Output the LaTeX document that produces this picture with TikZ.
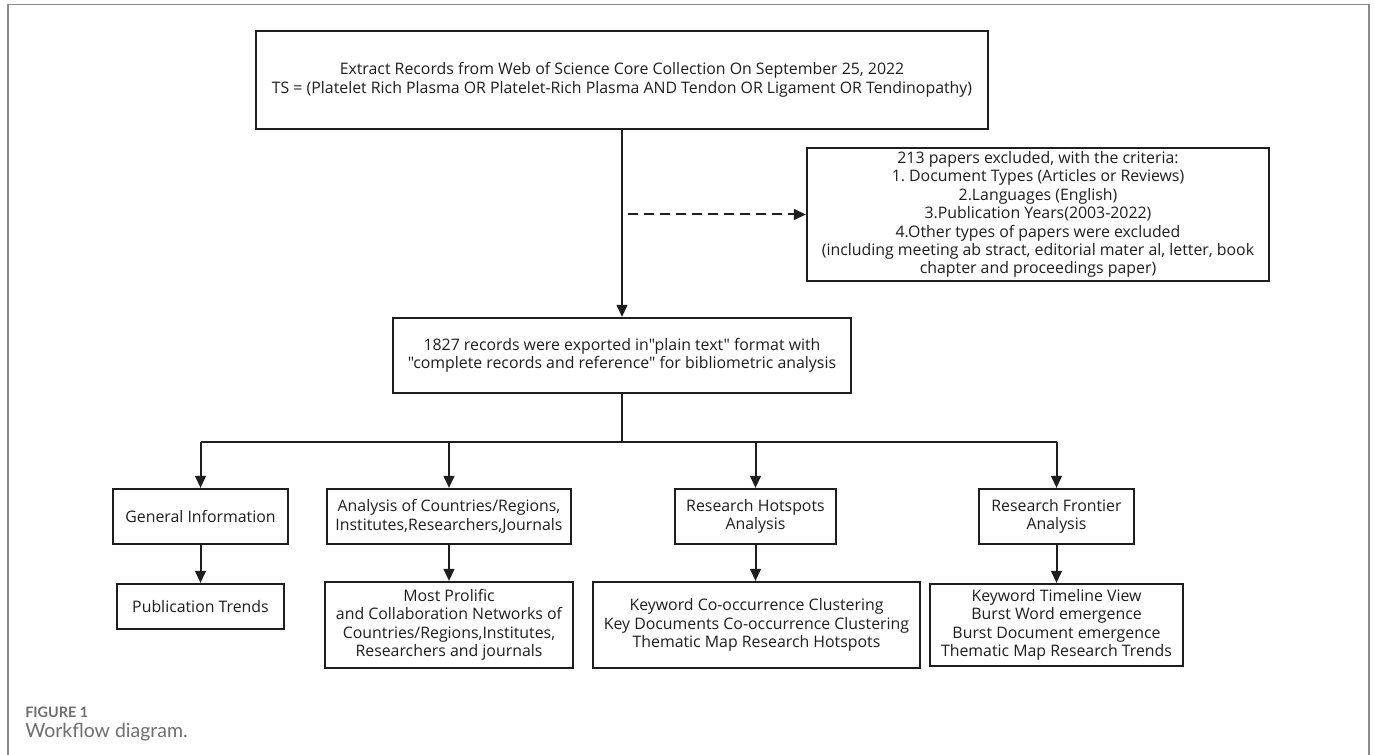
\documentclass[tikz,border=0pt]{standalone}
\usepackage{fontspec}
\setmainfont{Open Sans}[Ligatures=TeXOff]
\newfontfamily\capfont{Lato}
\usetikzlibrary{arrows.meta}
\frenchspacing
\definecolor{ink}{HTML}{1E1E1E}
\definecolor{framegray}{HTML}{8A8A8A}
\definecolor{capgray}{HTML}{6E6E6E}
\tikzset{
  box/.style={draw=ink, line width=1.6pt, align=center, text=ink, inner sep=0pt,
    font=\fontsize{11.9pt}{13.8pt}\selectfont},
  arr/.style={draw=ink, line width=1.5pt, -{Triangle[length=9pt,width=8pt]}},
  link/.style={draw=ink, line width=1.5pt},
  dasharr/.style={arr, dash pattern=on 7.5pt off 4.5pt},
}
\begin{document}
\begin{tikzpicture}[x=0.75pt,y=-0.75pt]
\useasboundingbox (0,0) rectangle (1375,755);
\fill[white] (0,0) rectangle (1375,755);
% outer frame
\draw[framegray, line width=1.2pt] (8,755) -- (8,4.5) -- (1369,4.5) -- (1369,755);

% boxes
\node[box, minimum width=732*0.75pt, minimum height=98*0.75pt] (top) at (622,80)
  {Extract Records from Web of Science Core Collection On September 25, 2022\\
   TS = (Platelet Rich Plasma OR Platelet-Rich Plasma AND Tendon OR Ligament OR Tendinopathy)};
\node[box, minimum width=462*0.75pt, minimum height=133*0.75pt] (excl) at (1038,214.5)
  {213 papers excluded, with the criteria:\\
   1. Document Types (Articles or Reviews)\\
   2.Languages (English)\\
   3.Publication Years(2003-2022)\\
   4.Other types of papers were excluded\\
   (including meeting ab stract, editorial mater al, letter, book\\
   chapter and proceedings paper)};
\node[box, minimum width=458*0.75pt, minimum height=75*0.75pt] (mid) at (622,355.5)
  {1827 records were exported in"plain text" format with\\
   "complete records and reference" for bibliometric analysis};

\node[box, minimum width=175*0.75pt, minimum height=55*0.75pt] (gen) at (200.5,516.5)
  {General Information};
\node[box, minimum width=244*0.75pt, minimum height=55*0.75pt] (ana) at (449,516.5)
  {Analysis of Countries/Regions,\\Institutes,Researchers,Journals};
\node[box, minimum width=161*0.75pt, minimum height=55*0.75pt] (hot) at (755.5,516.5)
  {Research Hotspots\\Analysis};
\node[box, minimum width=155*0.75pt, minimum height=55*0.75pt] (fro) at (1056.5,516.5)
  {Research Frontier\\Analysis};

\node[box, minimum width=167*0.75pt, minimum height=45*0.75pt] (pub) at (200.5,606.5)
  {Publication Trends};
\node[box, minimum width=248*0.75pt, minimum height=86*0.75pt] (pro) at (449,625)
  {Most Prolific\\and Collaboration Networks of\\Countries/Regions,Institutes,\\Researchers and journals};
\node[box, minimum width=327*0.75pt, minimum height=86*0.75pt] (key) at (756.5,625)
  {Keyword Co-occurrence Clustering\\Key Documents Co-occurrence Clustering\\Thematic Map Research Hotspots};
\node[box, minimum width=253*0.75pt, minimum height=82*0.75pt] (fro2) at (1056.5,625)
  {Keyword Timeline View\\Burst Word emergence\\Burst Document emergence\\Thematic Map Research Trends};

% connectors
\draw[arr] (top.south) -- (mid.north);
\coordinate (d0) at (628,214.5);
\draw[dasharr] (d0) -- (excl.west);

\coordinate (br) at (622,442);
\draw[link] (mid.south) -- (br);
\draw[link] (gen.north |- br) -- (fro.north |- br);
\draw[arr] (gen.north |- br) -- (gen.north);
\draw[arr] (ana.north |- br) -- (ana.north);
\draw[arr] (hot.north |- br) -- (hot.north);
\draw[arr] (fro.north |- br) -- (fro.north);

\draw[arr] (gen.south) -- (pub.north);
\draw[arr] (ana.south) -- (pro.north);
\draw[arr] (hot.south) -- (key.north -| hot.south);
\draw[arr] (fro.south) -- (fro2.north -| fro.south);

% caption
\node[anchor=west, inner sep=0pt, text=capgray, font=\capfont\bfseries\fontsize{10.8pt}{12pt}\selectfont] (figlabel) at (25,712) {FIGURE 1};
\node[anchor=west, inner sep=0pt, text=capgray, font=\capfont\fontsize{14.6pt}{16pt}\selectfont] (figcap) at (25,732) {Workflow diagram.};
\end{tikzpicture}
\end{document}
